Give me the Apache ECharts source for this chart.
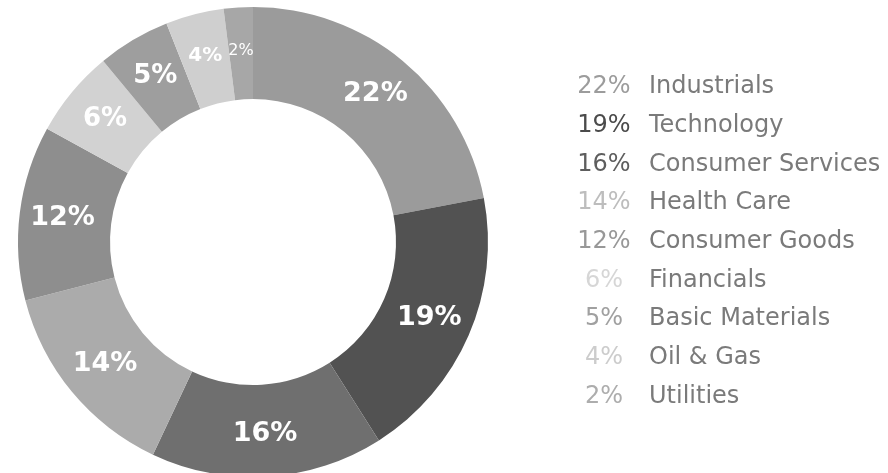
<!DOCTYPE html>
<html>
<head>
<meta charset="utf-8">
<script src="https://cdn.jsdelivr.net/npm/echarts@6/dist/echarts.min.js"></script>
<style>
    html, body { margin: 0; padding: 0; background: #fff; }
    #chart { width: 888px; height: 473px; }
</style>
</head>
<body>
<div id="chart"></div>
<script>
// sectors, clockwise from 12 o'clock
var sectors = ['Industrials', 'Technology', 'Consumer Services', 'Health Care', 'Consumer Goods',
    'Financials', 'Basic Materials', 'Oil & Gas', 'Utilities'];
var shares = [22, 19, 16, 14, 12, 6, 5, 4, 2];

// slice greys, legend percent greys, inside label sizes
var sliceColors = ['#9b9b9b', '#525252', '#6f6f6f', '#ababab', '#8e8e8e', '#d2d2d2', '#9e9e9e', '#cfcfcf', '#a7a7a7'];
var legendColors = ['#9c9c9c', '#4b4b4b', '#5e5e5e', '#bdbdbd', '#989898', '#d6d6d6', '#a0a0a0', '#cccccc', '#adadad'];
var labelSizes = [27, 27, 27, 27, 27, 26, 26, 20, 16];

var myChart = echarts.init(document.getElementById('chart'));

var pieData = [];
var legendRich = {
    n: { color: '#7a7a7a', fontSize: 24, lineHeight: 24, padding: [0, 0, 0, 19], fontFamily: 'DejaVu Sans' }
};
for (var i = 0; i < sectors.length; i++) {
    pieData.push({
        name: sectors[i],
        value: shares[i],
        itemStyle: { color: sliceColors[i] },
        label: { fontSize: labelSizes[i], fontWeight: labelSizes[i] < 18 ? 'normal' : 'bold' }
    });
    legendRich['p' + i] = {
        color: legendColors[i],
        fontSize: 24,
        lineHeight: 24,
        width: 52,
        align: 'right',
        fontFamily: 'DejaVu Sans'
    };
}

myChart.setOption({
    animation: false,
    legend: {
        orient: 'vertical',
        left: 568,
        top: 70,
        icon: 'none',
        itemWidth: 0,
        itemHeight: 14,
        itemGap: 14.7,
        selectedMode: false,
        data: sectors,
        formatter: function(name) {
            var idx = sectors.indexOf(name);
            return '{p' + idx + '|' + shares[idx] + '%}{n|' + name + '}';
        },
        textStyle: {
            fontFamily: 'DejaVu Sans',
            rich: legendRich
        }
    },
    series: [{
        type: 'pie',
        center: [253, 242],
        radius: [143, 235],
        startAngle: 90,
        clockwise: true,
        silent: true,
        avoidLabelOverlap: false,
        label: {
            show: true,
            position: 'inside',
            formatter: '{c}%',
            color: '#ffffff',
            fontFamily: 'DejaVu Sans',
            fontWeight: 'bold'
        },
        labelLine: { show: false },
        emphasis: { disabled: true },
        data: pieData
    }]
});
</script>
</body>
</html>
